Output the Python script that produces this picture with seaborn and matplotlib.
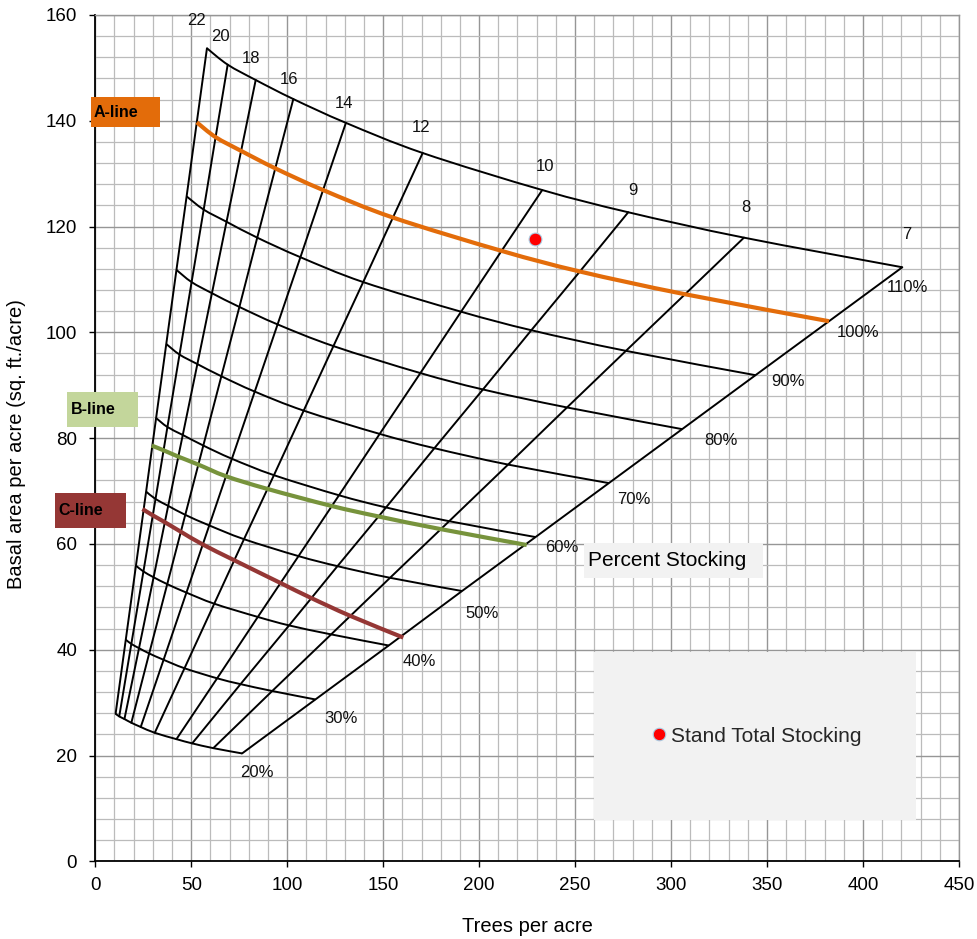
import matplotlib
matplotlib.use("Agg")
import matplotlib.pyplot as plt
import seaborn as sns
import pandas as pd
from matplotlib.patches import Rectangle, PathPatch
from matplotlib.path import Path
from matplotlib.lines import Line2D
from matplotlib.ticker import MultipleLocator

# ---------------- data ----------------
diameters = [22, 20, 18, 16, 14, 12, 10, 9, 8, 7]          # quadratic mean diameter lines (in.)
stocking_pct = [20, 30, 40, 50, 60, 70, 80, 90, 100, 110]    # percent stocking curves

# trees per acre at each diameter line, per stocking curve
tpa_20 = [10.6, 12.5, 15.2, 18.8, 23.7, 31.0, 42.3, 50.5, 61.5, 76.5]
tpa_30 = [15.9, 18.8, 22.8, 28.1, 35.6, 46.5, 63.5, 75.7, 92.2, 114.7]
tpa_40 = [21.2, 25.1, 30.4, 37.5, 47.5, 62.0, 84.7, 101.0, 122.9, 152.9]
tpa_50 = [26.5, 31.4, 38.0, 46.9, 59.4, 77.5, 105.9, 126.2, 153.6, 191.1]
tpa_60 = [31.7, 37.6, 45.6, 56.3, 71.2, 93.1, 127.0, 151.5, 184.4, 229.4]
tpa_70 = [37.0, 43.9, 53.2, 65.7, 83.1, 108.6, 148.2, 176.7, 215.1, 267.6]
tpa_80 = [42.3, 50.2, 60.8, 75.1, 95.0, 124.1, 169.4, 202.0, 245.8, 305.8]
tpa_90 = [47.6, 56.5, 68.4, 84.4, 106.9, 139.6, 190.6, 227.2, 276.5, 344.0]
tpa_100 = [52.9, 62.7, 76.0, 93.8, 118.7, 155.1, 211.7, 252.5, 307.3, 382.3]
tpa_110 = [58.2, 69.0, 83.6, 103.2, 130.6, 170.6, 232.9, 277.7, 338.0, 420.5]

# basal area (sq. ft./acre) at the same nodes
ba_20 = [27.9, 27.4, 26.9, 26.2, 25.4, 24.3, 23.1, 22.3, 21.4, 20.4]
ba_30 = [41.9, 41.1, 40.3, 39.3, 38.1, 36.5, 34.6, 33.5, 32.2, 30.6]
ba_40 = [55.9, 54.8, 53.7, 52.4, 50.8, 48.7, 46.2, 44.6, 42.9, 40.8]
ba_50 = [69.9, 68.5, 67.2, 65.5, 63.5, 60.9, 57.7, 55.8, 53.6, 51.1]
ba_60 = [83.8, 82.1, 80.6, 78.6, 76.1, 73.0, 69.2, 66.9, 64.3, 61.3]
ba_70 = [97.8, 95.8, 94.0, 91.7, 88.8, 85.2, 80.8, 78.1, 75.0, 71.5]
ba_80 = [111.8, 109.5, 107.4, 104.8, 101.5, 97.4, 92.3, 89.2, 85.8, 81.7]
ba_90 = [125.7, 123.2, 120.9, 117.9, 114.2, 109.5, 103.9, 100.4, 96.5, 91.9]
ba_100 = [139.7, 136.9, 134.3, 131.0, 126.9, 121.7, 115.4, 111.5, 107.2, 102.1]
ba_110 = [153.7, 150.6, 147.7, 144.1, 139.6, 133.9, 126.9, 122.7, 117.9, 112.3]

# B-line and C-line
b_line_tpa = [29.4, 35.6, 43.3, 53.7, 68.1, 89.7, 122.9, 147.5, 180.0, 224.8]
b_line_ba = [78.6, 77.7, 76.5, 75.0, 72.8, 70.4, 67.2, 65.2, 62.8, 59.8]
c_line_tpa = [24.6, 30.0, 36.3, 44.6, 56.0, 72.5, 96.6, 112.4, 132.9, 160.5]
c_line_ba = [66.6, 65.4, 64.1, 62.3, 59.9, 56.9, 52.6, 49.8, 46.4, 42.3]

# the stand
stand_tpa = [229.0]
stand_ba = [117.6]

# label anchor positions (data units)
diam_label_x = [52.8, 65.2, 81.3, 101.2, 129.4, 169.9, 234.3, 280.4, 338.8, 423.0]
diam_label_y = [158.9, 155.9, 151.8, 147.7, 143.3, 138.7, 131.3, 126.8, 123.6, 118.4]
pct_label_x = [84.1, 128.1, 168.8, 201.4, 243.0, 280.7, 325.8, 360.9, 397.2, 423.4]
pct_label_y = [16.8, 27.0, 37.8, 46.9, 59.3, 68.4, 79.6, 90.8, 99.9, 108.4]

tpa_rows = [tpa_20, tpa_30, tpa_40, tpa_50, tpa_60, tpa_70, tpa_80, tpa_90, tpa_100, tpa_110]
ba_rows = [ba_20, ba_30, ba_40, ba_50, ba_60, ba_70, ba_80, ba_90, ba_100, ba_110]

# ---------------- styling ----------------
sns.set_theme(style="white")
plt.rcParams["font.family"] = ["Liberation Sans", "DejaVu Sans"]

ORANGE = "#E36C0A"
GREEN = "#77933C"
DARKRED = "#953735"
GRID_MINOR = "#BBBBBB"
GRID_MAJOR = "#969696"

fig = plt.figure(figsize=(9.77, 9.39), dpi=100)
ax = fig.add_axes([0.0975, 0.0827, 0.884, 0.9014])
ax.set_axisbelow(True)


def smooth_curve(ax, xs, ys, color, lw, z):
    """Draw a smoothed line through the nodes (like a spreadsheet 'smoothed line')."""
    pts = list(zip(xs, ys))
    n = len(pts)
    verts = [pts[0]]
    codes = [Path.MOVETO]
    for i in range(n - 1):
        p0 = pts[i - 1] if i > 0 else pts[i]
        p1 = pts[i]
        p2 = pts[i + 1]
        p3 = pts[i + 2] if i + 2 < n else pts[i + 1]
        c1 = (p1[0] + (p2[0] - p0[0]) / 6.0, p1[1] + (p2[1] - p0[1]) / 6.0)
        c2 = (p2[0] - (p3[0] - p1[0]) / 6.0, p2[1] - (p3[1] - p1[1]) / 6.0)
        verts += [c1, c2, p2]
        codes += [Path.CURVE4, Path.CURVE4, Path.CURVE4]
    patch = PathPatch(Path(verts, codes), facecolor="none", edgecolor=color,
                      linewidth=lw, zorder=z, capstyle="butt", joinstyle="round")
    ax.add_patch(patch)


# stocking curves (black), 100% is drawn as the orange A-line
for pct, xs, ys in zip(stocking_pct, tpa_rows, ba_rows):
    if pct == 100:
        smooth_curve(ax, xs, ys, ORANGE, 3.0, 4)
    else:
        smooth_curve(ax, xs, ys, "black", 1.4, 3)

# diameter lines (black)
for j, d in enumerate(diameters):
    df = pd.DataFrame({"tpa": [r[j] for r in tpa_rows], "ba": [r[j] for r in ba_rows]})
    sns.lineplot(data=df, x="tpa", y="ba", sort=False, estimator=None,
                 color="black", linewidth=1.4, ax=ax, zorder=3, legend=False)

# B-line and C-line
smooth_curve(ax, b_line_tpa, b_line_ba, GREEN, 3.0, 4)
smooth_curve(ax, c_line_tpa, c_line_ba, DARKRED, 3.0, 4)

# stand point
sns.scatterplot(x=stand_tpa, y=stand_ba, s=85, color="#FF0000", edgecolor="#A9CCE3",
                linewidth=0.8, ax=ax, zorder=6, legend=False)

# labels
for d, lx, ly in zip(diameters, diam_label_x, diam_label_y):
    ax.text(lx, ly, str(d), ha="center", va="center", fontsize=12, color="#111111", zorder=5)
for p, lx, ly in zip(stocking_pct, pct_label_x, pct_label_y):
    ax.text(lx, ly, f"{p}%", ha="center", va="center", fontsize=12, color="#111111", zorder=5)

# axes
ax.set_xlim(0, 450)
ax.set_ylim(0, 160)
ax.xaxis.set_major_locator(MultipleLocator(50))
ax.xaxis.set_minor_locator(MultipleLocator(10))
ax.yaxis.set_major_locator(MultipleLocator(20))
ax.yaxis.set_minor_locator(MultipleLocator(4))
ax.grid(which="minor", color=GRID_MINOR, linewidth=0.9)
ax.grid(which="major", color=GRID_MAJOR, linewidth=1.0)
ax.tick_params(axis="both", which="major", direction="out", length=4, width=1,
               labelsize=13.5, colors="black", bottom=True, left=True)
ax.tick_params(axis="x", which="major", pad=7)
ax.tick_params(axis="y", which="major", pad=9)
ax.tick_params(which="minor", length=0)
for side in ["left", "bottom"]:
    ax.spines[side].set_color("black")
    ax.spines[side].set_linewidth(1.3)
for side in ["top", "right"]:
    ax.spines[side].set_color(GRID_MAJOR)
    ax.spines[side].set_linewidth(1.0)

ax.set_xlabel("Trees per acre", fontsize=14.5, color="black")
ax.set_ylabel("Basal area per acre (sq. ft./acre)", fontsize=14.5, color="black")
ax.xaxis.set_label_coords(0.5, -0.066)
ax.yaxis.set_label_coords(-0.08, 0.493)

# A/B/C line tags
tags = [("A-line", ORANGE, -0.005, 0.8675, 0.080, 0.0355, -0.0015),
        ("B-line", "#C3D69B", -0.0324, 0.5135, 0.0815, 0.0406, -0.0285),
        ("C-line", DARKRED, -0.0467, 0.3941, 0.0822, 0.0407, -0.0428)]
for label, fc, x0, y0, w, h, tx in tags:
    ax.add_patch(Rectangle((x0, y0), w, h, transform=ax.transAxes, facecolor=fc,
                           edgecolor="none", clip_on=False, zorder=7))
    ax.text(tx, y0 + h / 2, label, transform=ax.transAxes, ha="left", va="center",
            fontsize=11.5, fontweight="bold", color="black", zorder=8, clip_on=False)

# "Percent Stocking" box
ax.add_patch(Rectangle((0.5658, 0.3347), 0.2072, 0.0413, transform=ax.transAxes,
                       facecolor="#F2F2F2", edgecolor="none", zorder=1.5))
ax.text(0.5705, 0.3554, "Percent Stocking", transform=ax.transAxes, ha="left",
        va="center", fontsize=15, color="black", zorder=5)

# legend box
ax.add_patch(Rectangle((0.5774, 0.0488), 0.3728, 0.1985, transform=ax.transAxes,
                       facecolor="#F2F2F2", edgecolor="none", zorder=1.5))
handle = Line2D([], [], marker="o", linestyle="none", markerfacecolor="#FF0000",
                markeredgecolor="#A9CCE3", markeredgewidth=0.8, markersize=9,
                label="Stand Total Stocking")
leg = ax.legend(handles=[handle], loc="center", bbox_to_anchor=(0.764, 0.148),
                frameon=False, fontsize=15, handletextpad=0.05, handlelength=1.0,
                borderaxespad=0)
leg.set_zorder(6)

fig.savefig("out.png", dpi=100)
